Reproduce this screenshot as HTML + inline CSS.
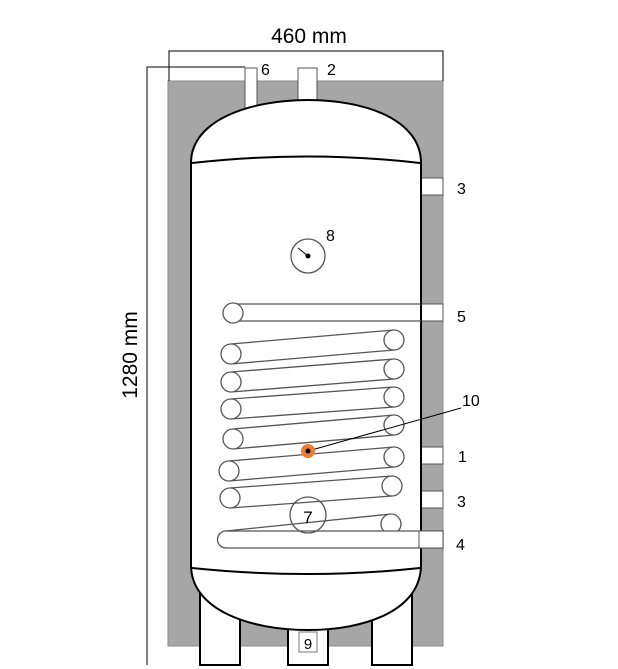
<!DOCTYPE html>
<html><head><style>body{margin:0;background:#fff}svg{display:block}text{font-family:"Liberation Sans",sans-serif;fill:#000}</style></head>
<body>
<svg width="618" height="669" viewBox="0 0 618 669">
<rect x="168" y="81" width="275" height="565" fill="#a6a6a6" stroke="#8a8a8a"/>
<polyline points="169,81 169,51 443,51 443,81" fill="none" stroke="#000"/>
<polyline points="147,665 147,67 245,67" fill="none" stroke="#000"/>
<text x="309" y="43" font-size="21" text-anchor="middle">460 mm</text>
<text transform="translate(137,355) rotate(-90)" font-size="21" text-anchor="middle">1280 mm</text>
<!-- pipes -->
<rect x="245" y="68" width="12" height="45" fill="#fff" stroke="#555"/>
<rect x="298" y="68" width="19" height="36" fill="#fff" stroke="#555"/>
<text x="261" y="75" font-size="16">6</text>
<text x="327" y="75" font-size="16">2</text>
<!-- legs -->
<rect x="200" y="580" width="40" height="85" fill="#fff" stroke="#000" stroke-width="2"/>
<rect x="372" y="580" width="40" height="85" fill="#fff" stroke="#000" stroke-width="2"/>
<rect x="288" y="620" width="40" height="45" fill="#fff" stroke="#000" stroke-width="2"/>
<rect x="299" y="632" width="18" height="20" fill="#fff" stroke="#777"/>
<text x="308" y="649" font-size="15" text-anchor="middle">9</text>
<!-- ports -->
<rect x="419" y="178" width="24" height="17" fill="#fff" stroke="#555"/>
<rect x="419" y="304" width="24" height="17" fill="#fff" stroke="#555"/>
<rect x="419" y="447" width="24" height="17" fill="#fff" stroke="#555"/>
<rect x="419" y="491" width="24" height="17" fill="#fff" stroke="#555"/>
<!-- tank -->
<path d="M191,163 C191,120 250,100 308,100 C366,100 421,120 421,163 L421,565 C421,610 366,630 308,630 C250,630 191,610 191,565 Z" fill="#fff" stroke="#000" stroke-width="2"/>
<path d="M192,163 Q308,150 420,163" fill="none" stroke="#000" stroke-width="2"/>
<path d="M192,568 Q308,580 420,568" fill="none" stroke="#000" stroke-width="2"/>
<!-- coils -->
<g fill="#fff" stroke="#555" stroke-width="1.3">
<line x1="233" y1="304" x2="421" y2="304"/><line x1="233" y1="321" x2="421" y2="321"/>
<circle cx="233" cy="313" r="10"/>
<line x1="231" y1="344" x2="394" y2="330"/><line x1="231" y1="364" x2="394" y2="350"/>
<line x1="231" y1="372" x2="394" y2="359"/><line x1="231" y1="392" x2="394" y2="379"/>
<line x1="231" y1="399" x2="394" y2="387"/><line x1="231" y1="419" x2="394" y2="407"/>
<line x1="233" y1="429" x2="394" y2="415"/><line x1="233" y1="449" x2="394" y2="435"/>
<line x1="229" y1="461" x2="394" y2="447"/><line x1="229" y1="481" x2="394" y2="467"/>
<line x1="230" y1="488" x2="392" y2="476"/><line x1="230" y1="508" x2="392" y2="496"/>
<line x1="226" y1="531" x2="391" y2="514"/>
<circle cx="394" cy="340" r="10"/><circle cx="231" cy="354" r="10"/>
<circle cx="394" cy="369" r="10"/><circle cx="231" cy="382" r="10"/>
<circle cx="394" cy="397" r="10"/><circle cx="231" cy="409" r="10"/>
<circle cx="394" cy="425" r="10"/><circle cx="233" cy="439" r="10"/>
<circle cx="394" cy="457" r="10"/><circle cx="229" cy="471" r="10"/>
<circle cx="392" cy="486" r="10"/><circle cx="230" cy="498" r="10"/>
<circle cx="391" cy="524" r="10"/>
<path d="M226,531 L443,531 L443,548 L226,548 A8.5,8.5 0 0 1 226,531 Z"/>
<circle cx="308" cy="515" r="18" fill="none"/>
<circle cx="308" cy="256" r="17"/>
</g>
<rect x="419" y="531" width="24" height="17" fill="#fff" stroke="#555"/>
<text x="308" y="523" font-size="17" text-anchor="middle">7</text>
<line x1="298" y1="248" x2="308" y2="256" stroke="#000"/><circle cx="308" cy="256" r="2.5" fill="#000"/>
<text x="326" y="241" font-size="16">8</text>
<line x1="308" y1="451" x2="461" y2="408" stroke="#000"/>
<circle cx="308" cy="451" r="7" fill="#ed7d31"/><circle cx="308" cy="451" r="2.5" fill="#000"/>
<g font-size="16">
<text x="462" y="406">10</text>
<text x="457" y="194">3</text>
<text x="457" y="322">5</text>
<text x="458" y="462">1</text>
<text x="457" y="507">3</text>
<text x="456" y="550">4</text>
</g>
</svg>
</body></html>
